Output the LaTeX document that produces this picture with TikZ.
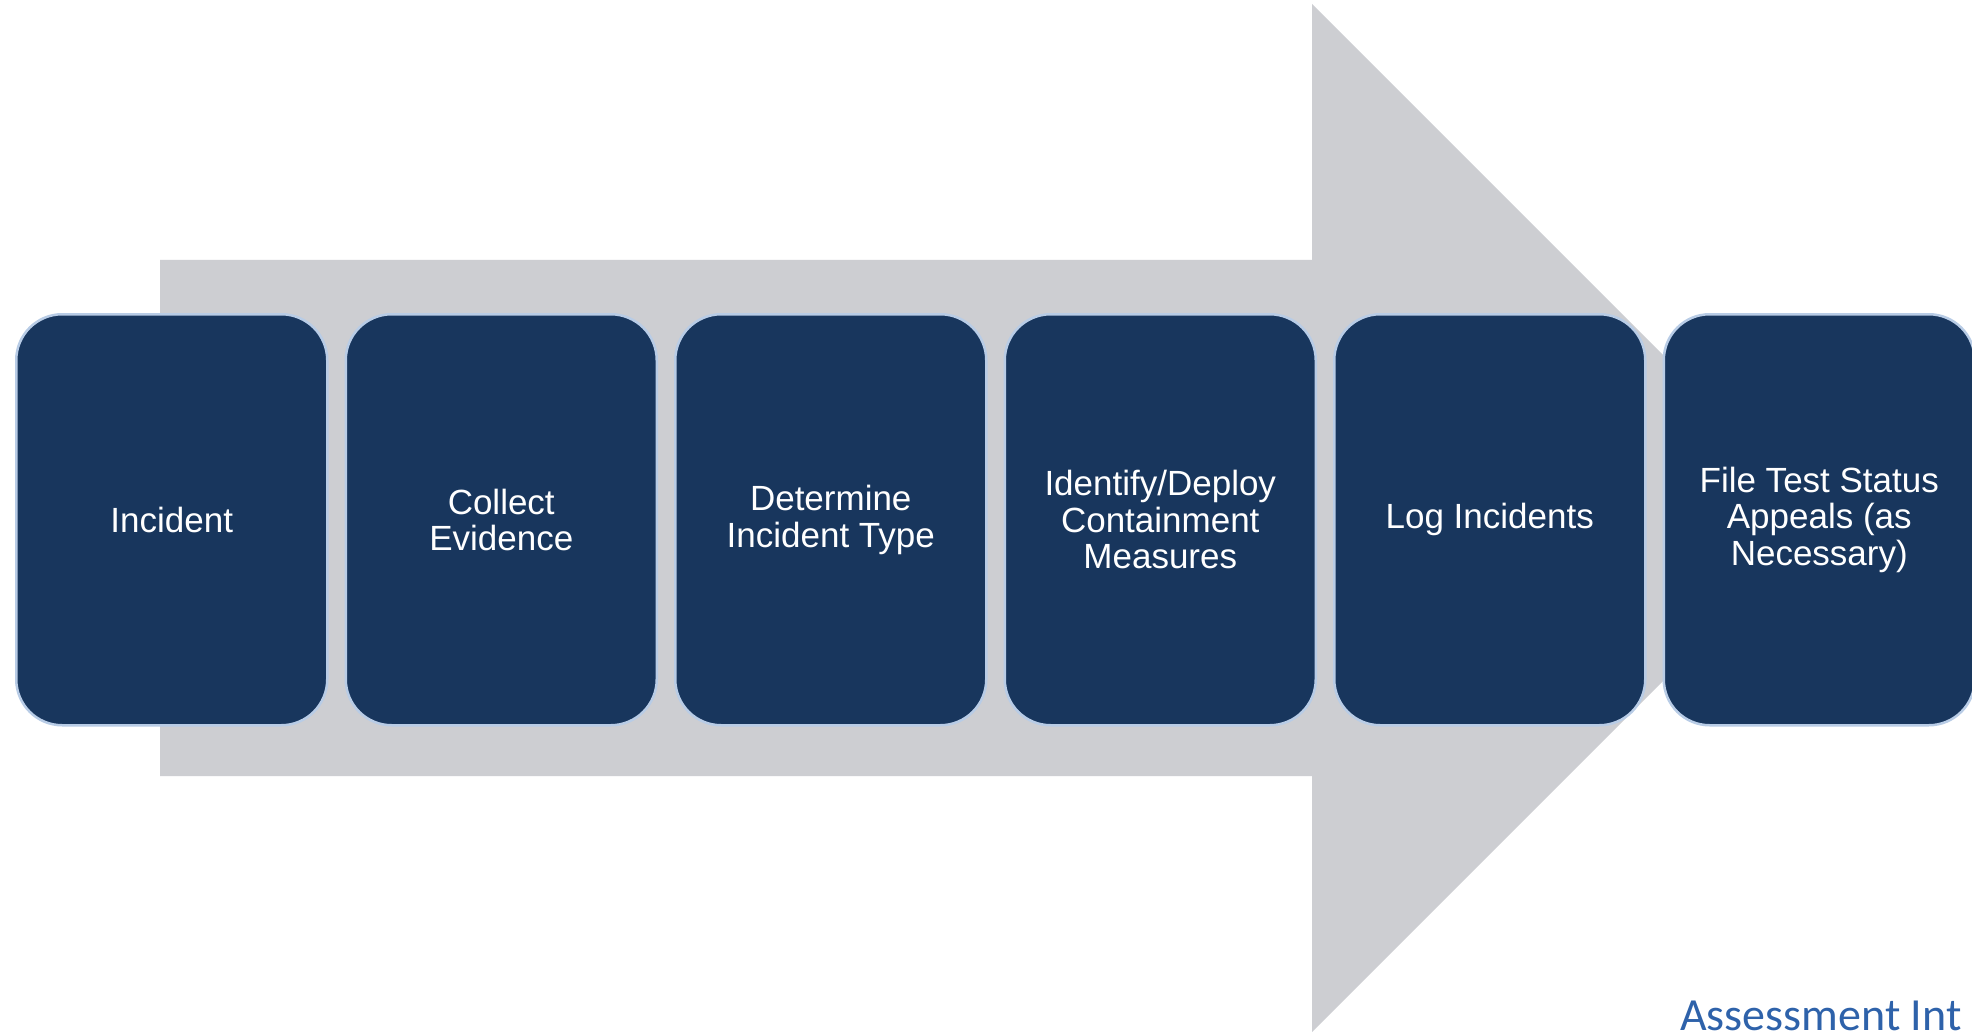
\documentclass[tikz,border=0pt]{standalone}
\usepackage{fontspec}
\setmainfont{Liberation Sans}
\newfontfamily\calib{Carlito}
\definecolor{arrowgray}{RGB}{205,206,210}
\definecolor{navy}{RGB}{24,54,93}
\definecolor{edgeblue}{RGB}{184,204,230}
\definecolor{capblue}{RGB}{46,98,170}
\tikzset{
  stepbox/.style={draw=edgeblue, line width=2.5pt, fill=navy, rounded corners=46pt,
    minimum width=311pt, minimum height=411pt, inner sep=0pt, text=white,
    align=center, font=\fontsize{35}{36.5}\selectfont, anchor=north west}
}
\begin{document}
\begin{tikzpicture}[x=1pt,y=-1pt]
\clip (0,0) rectangle (1972,1032);
\fill[white] (0,0) rectangle (1972,1032);
% big arrow
\fill[arrowgray] (160,260) -- (1312,260) -- (1312,4) -- (1826,518) -- (1312,1032) -- (1312,776) -- (160,776) -- cycle;
% steps
\node[stepbox] (b1) at (15,313) {Incident};
\node[stepbox] (b2) at (344.5,313) {Collect\\Evidence};
\node[stepbox] (b3) at (674,313) {Determine\\Incident Type};
\node[stepbox] (b4) at (1003.5,313) {Identify/Deploy\\Containment\\Measures};
\node[stepbox] (b5) at (1333,313) {Log Incidents};
\node[stepbox] (b6) at (1662.5,313) {File Test Status\\Appeals (as\\Necessary)};
% caption
\node[anchor=base west, inner sep=0pt, text=capblue, font=\calib\fontsize{46}{50}\selectfont] (cap) at (1680,1030) {Assessment Int};
\end{tikzpicture}
\end{document}
